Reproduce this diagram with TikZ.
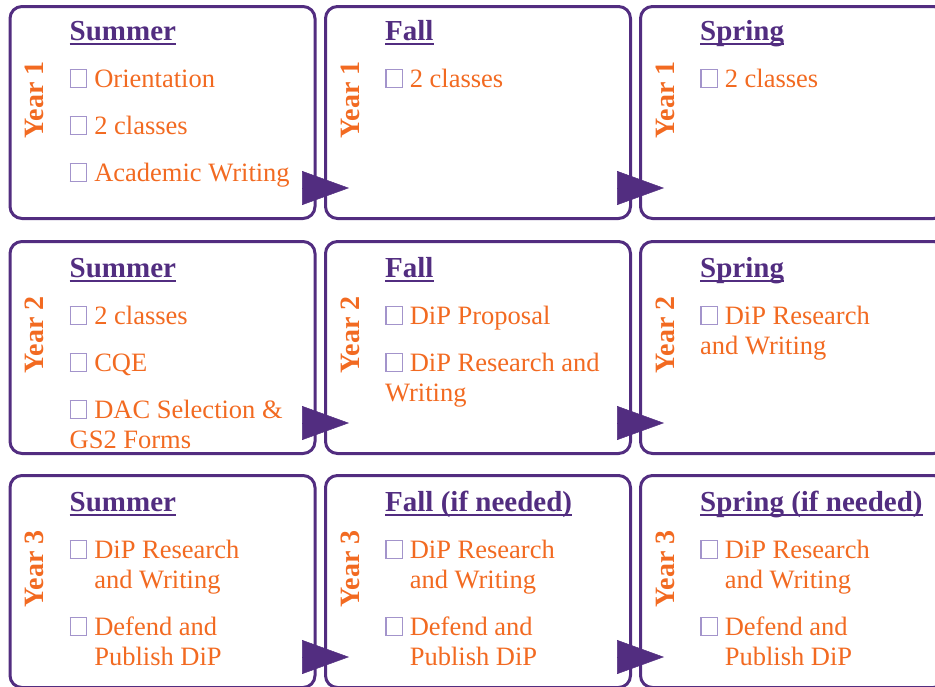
\documentclass[tikz,border=0pt]{standalone}
\usepackage{fontspec}
\setmainfont{Liberation Serif}
\usetikzlibrary{arrows.meta}
\definecolor{tigerpurple}{HTML}{522D80}
\definecolor{tigerorange}{HTML}{F26A21}
\definecolor{chkpurple}{HTML}{A394CB}
\newcommand\chk{{\color{chkpurple}\setlength{\fboxsep}{0pt}\setlength{\fboxrule}{1.3pt}\fbox{\rule{0pt}{17pt}\hspace{15pt}}}\hspace{7pt}}
\newcommand\skipchk{\phantom{\chk}}
\newcommand\seasonhd[1]{\leavevmode{\fontsize{29pt}{30pt}\selectfont\bfseries\color{tigerpurple}\setbox0\hbox{#1}\rlap{\rule[-5pt]{\wd0}{1.8pt}}\box0}}
\tikzset{
  season/.style={draw=tigerpurple, line width=3pt, rounded corners=12pt,
    minimum width=305pt, minimum height=212pt},
  items/.style={anchor=base west, inner sep=0pt, text=tigerorange,
    font=\fontsize{26.5pt}{30pt}\selectfont},
  yearlab/.style={rotate=90, inner sep=0pt, text=tigerorange,
    font=\fontsize{28pt}{30pt}\selectfont\bfseries},
  flow/.style={draw=tigerpurple, line width=0.5pt,
    -{Triangle[length=47pt,width=34pt]}}
}
\begin{document}
\begin{tikzpicture}[x=1pt,y=-1pt]
  \useasboundingbox (0,0) rectangle (935,686);
  \clip (0,0) rectangle (935,686);
  \node [season] (su1) at (162.5,112.5) {};
  \node [season] (fa1) at (478,112.5) {};
  \node [season] (sp1) at (793,112.5) {};
  \node [season] (su2) at (162.5,347.5) {};
  \node [season] (fa2) at (478,347.5) {};
  \node [season] (sp2) at (793,347.5) {};
  \node [season] (su3) at (162.5,581.5) {};
  \node [season] (fa3) at (478,581.5) {};
  \node [season] (sp3) at (793,581.5) {};
  \foreach \b/\y in {su1/1,fa1/1,sp1/1,su2/2,fa2/2,sp2/2,su3/3,fa3/3,sp3/3} {
    \node [yearlab] (y\b) at ([shift={(26,95)}]\b.north west) {Year \y};
  }
  \node [items] (t-su1) at ([shift={(61,35)}]su1.north west) {\parbox[t]{280pt}{\raggedright
    \seasonhd{Summer}\\[17pt]
    \chk Orientation\\[17pt]
    \chk 2 classes\\[17pt]
    \chk Academic Writing}};
  \node [items] (t-fa1) at ([shift={(61,35)}]fa1.north west) {\parbox[t]{280pt}{\raggedright
    \seasonhd{Fall}\\[17pt]
    \chk 2 classes}};
  \node [items] (t-sp1) at ([shift={(61,35)}]sp1.north west) {\parbox[t]{280pt}{\raggedright
    \seasonhd{Spring}\\[17pt]
    \chk 2 classes}};
  \node [items] (t-su2) at ([shift={(61,37)}]su2.north west) {\parbox[t]{280pt}{\raggedright
    \seasonhd{Summer}\\[17pt]
    \chk 2 classes\\[17pt]
    \chk CQE\\[17pt]
    \chk DAC Selection \&\\
    GS2 Forms}};
  \node [items] (t-fa2) at ([shift={(61,37)}]fa2.north west) {\parbox[t]{280pt}{\raggedright
    \seasonhd{Fall}\\[17pt]
    \chk DiP Proposal\\[17pt]
    \chk DiP Research and\\
    Writing}};
  \node [items] (t-sp2) at ([shift={(61,37)}]sp2.north west) {\parbox[t]{280pt}{\raggedright
    \seasonhd{Spring}\\[17pt]
    \chk DiP Research\\
    and Writing}};
  \node [items] (t-su3) at ([shift={(61,37)}]su3.north west) {\parbox[t]{280pt}{\raggedright
    \seasonhd{Summer}\\[17pt]
    \chk DiP Research\\
    \skipchk and Writing\\[17pt]
    \chk Defend and\\
    \skipchk Publish DiP}};
  \node [items] (t-fa3) at ([shift={(61,37)}]fa3.north west) {\parbox[t]{280pt}{\raggedright
    \seasonhd{Fall (if needed)}\\[17pt]
    \chk DiP Research\\
    \skipchk and Writing\\[17pt]
    \chk Defend and\\
    \skipchk Publish DiP}};
  \node [items] (t-sp3) at ([shift={(61,37)}]sp3.north west) {\parbox[t]{280pt}{\raggedright
    \seasonhd{Spring (if needed)}\\[17pt]
    \chk DiP Research\\
    \skipchk and Writing\\[17pt]
    \chk Defend and\\
    \skipchk Publish DiP}};
  \foreach \r in {1,2,3} {
    \draw [flow] ([shift={(-13,-32)}]su\r.south east) -- ([shift={(25,-32)}]fa\r.south west);
    \draw [flow] ([shift={(-11,-32)}]fa\r.south east) -- ([shift={(25,-32)}]sp\r.south west);
  }
\end{tikzpicture}
\end{document}
